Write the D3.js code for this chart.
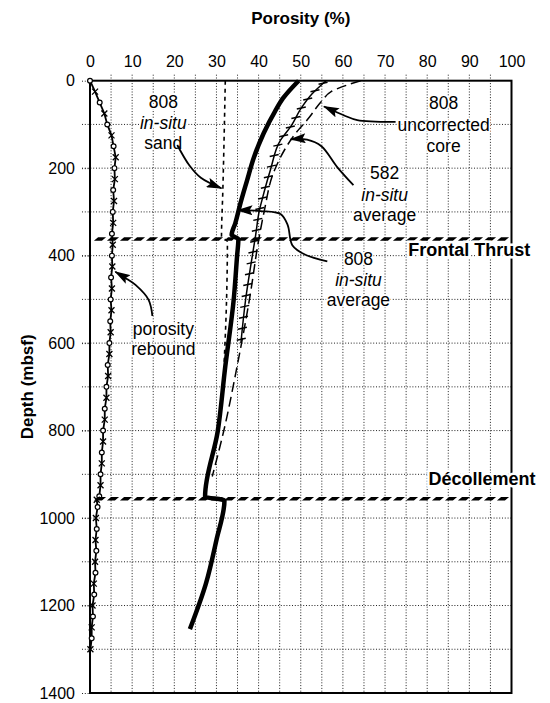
<!DOCTYPE html>
<html>
<head>
<meta charset="utf-8">
<script src="https://cdn.jsdelivr.net/npm/d3@7"></script>
<style>
  body { margin: 0; background: #fff; }
  svg { display: block; font-family: "Liberation Sans", Arial, Helvetica, sans-serif; }
</style>
</head>
<body>
<div id="chart"></div>
<script>
// tick labels
var porosityTicks = [0, 10, 20, 30, 40, 50, 60, 70, 80, 90, 100];
var depthTicks = [0, 200, 400, 600, 800, 1000, 1200, 1400];
var porosityGrid = [0, 5, 10, 15, 20, 25, 30, 35, 40, 45, 50, 55, 60, 65, 70, 75, 80, 85, 90, 95, 100];
var depthGrid = [0, 100, 200, 300, 400, 500, 600, 700, 800, 900, 1000, 1100, 1200, 1300, 1400];

// series: [depth (mbsf), porosity (%)]
var insitu808 = [[0, 49.5], [40, 45.8], [70, 43.9], [120, 41.2], [175, 38.9], [230, 37.2], [280, 35.7],
  [325, 34.5], [353, 33.6], [362, 35.2], [400, 34.9], [500, 34.1], [653, 32.1], [802, 30.3],
  [951, 27.3], [960, 31.9], [1050, 30.0], [1150, 27.5], [1254, 23.7]];
var insitu582 = [[0, 56], [30, 52.7], [60, 50.3], [105, 47.6], [136, 45.2], [204, 42.8], [273, 40.8],
  [296, 40.2], [353, 39.3], [425, 38.1], [502, 36.9], [600, 35.8]];
var uncorrected808 = [[0, 64.2], [25, 57.2], [44, 55.2], [90, 51.5], [113, 49.4], [204, 43.8],
  [300, 41.3], [365, 40.0], [490, 38.0], [653, 34.9], [802, 31.7], [905, 29.0]];
var sand808 = [[0, 32.1], [256, 31.5], [356, 31.2], [368, 32.6], [500, 32.4], [650, 31.8]];
var rebound = [[0, 0], [25, 1.2], [50, 2.3], [75, 3.4], [100, 4.1], [125, 5.1], [150, 5.6], [175, 6.1],
  [200, 5.8], [225, 5.9], [250, 5.5], [275, 5.7], [300, 5.4], [325, 5.5], [350, 5.2], [375, 5.4],
  [400, 5.2], [425, 5.3], [450, 5.0], [475, 5.2], [500, 4.9], [525, 5.1], [550, 4.8], [575, 4.9],
  [600, 4.6], [625, 4.6], [650, 4.2], [675, 4.3], [700, 3.9], [725, 3.9], [750, 3.5], [775, 3.5],
  [800, 3.1], [825, 3.1], [850, 2.8], [875, 2.8], [900, 2.5], [925, 2.5], [950, 2.2], [958, 1.6],
  [975, 1.8], [1000, 1.4], [1025, 1.6], [1050, 1.3], [1075, 1.5], [1100, 1.2], [1125, 1.3],
  [1150, 0.9], [1175, 1.0], [1200, 0.6], [1225, 0.7], [1250, 0.4], [1275, 0.4], [1300, 0.1]];

// structural boundaries (mbsf)
var boundaryDepths = [362, 956];
var boundaryNames = ["Frontal Thrust", "Décollement"];
var boundaryLabelPos = [[75.5, 387], [80.3, 910]];

// annotations: text lines, centre porosity, depth of each line
var noteLines = [["808", "in-situ", "sand"], ["808", "uncorrected", "core"], ["582", "in-situ", "average"],
  ["808", "in-situ", "average"], ["porosity", "rebound"]];
var noteX = [17.4, 83.9, 69.9, 63.7, 17.4];
var noteDepths = [[48, 97, 142], [51, 101, 149], [211, 261, 307], [408, 456, 501], [568, 613]];
// arrow paths, [porosity, depth]
var arrowPaths = [
  [[20.7, 147], [23.6, 194], [26.3, 222], [31.2, 246]],
  [[72.5, 94], [63.4, 90], [60.2, 79], [55.5, 59]],
  [[62.5, 239], [58.6, 197], [54.9, 150], [51.5, 135], [47.6, 134]],
  [[56.3, 413], [51.1, 398], [48, 376], [46.9, 330], [45.2, 305], [40.5, 298], [35, 296]],
  [[14.8, 538], [13.9, 501], [10.8, 467], [8.4, 451], [6.0, 437]]
];

var width = 550, height = 703;
var x = d3.scaleLinear().domain([0, 100]).range([90, 511.5]);
var y = d3.scaleLinear().domain([0, 1400]).range([80.7, 693]);

var svg = d3.select("#chart").append("svg")
  .attr("width", width)
  .attr("height", height);

svg.append("defs").append("marker")
  .attr("id", "head")
  .attr("viewBox", "0 0 16 10")
  .attr("refX", 15)
  .attr("refY", 5)
  .attr("markerWidth", 16)
  .attr("markerHeight", 10)
  .attr("markerUnits", "userSpaceOnUse")
  .attr("orient", "auto")
  .append("path")
  .attr("d", "M0,0 L16,5 L0,10 L3,5 Z")
  .attr("fill", "black");

// grid
svg.append("g").selectAll("line")
  .data(porosityGrid.slice(1, -1))
  .enter().append("line")
  .attr("x1", function(d) { return x(d); })
  .attr("x2", function(d) { return x(d); })
  .attr("y1", y(0) - 6)
  .attr("y2", y(1400))
  .attr("stroke", "#222")
  .attr("stroke-width", 1)
  .attr("stroke-dasharray", "1,1.8");

svg.append("g").selectAll("line")
  .data(depthGrid.slice(1, -1))
  .enter().append("line")
  .attr("x1", x(0) - 8)
  .attr("x2", x(100))
  .attr("y1", function(d) { return y(d); })
  .attr("y2", function(d) { return y(d); })
  .attr("stroke", "#222")
  .attr("stroke-width", 1)
  .attr("stroke-dasharray", "1,1.8");

// frame
svg.append("rect")
  .attr("x", x(0))
  .attr("y", y(0))
  .attr("width", x(100) - x(0))
  .attr("height", y(1400) - y(0))
  .attr("fill", "none")
  .attr("stroke", "black")
  .attr("stroke-width", 2);

// axes
var xAxis = svg.append("g")
  .attr("transform", "translate(0," + y(0) + ")")
  .call(d3.axisTop(x).tickValues(porosityTicks).tickSize(0).tickPadding(14));
var yAxis = svg.append("g")
  .attr("transform", "translate(" + x(0) + ",0)")
  .call(d3.axisLeft(y).tickValues(depthTicks).tickFormat(d3.format("d")).tickSize(0).tickPadding(15));
[xAxis, yAxis].forEach(function(a) {
  a.select(".domain").remove();
  a.attr("font-size", 16).attr("font-family", null);
  a.selectAll("text").attr("fill", "black");
});
yAxis.selectAll(".tick").append("line")
  .attr("x1", -8).attr("x2", 0)
  .attr("stroke", "#222").attr("stroke-dasharray", "1,1.8");

svg.append("text")
  .attr("x", (x(0) + x(100)) / 2)
  .attr("y", 24)
  .attr("text-anchor", "middle")
  .attr("font-size", 17)
  .attr("font-weight", "bold")
  .text("Porosity (%)");

svg.append("text")
  .attr("transform", "translate(33," + (y(0) + y(1400)) / 2 + ") rotate(-90)")
  .attr("text-anchor", "middle")
  .attr("font-size", 17)
  .attr("font-weight", "bold")
  .text("Depth (mbsf)");

// curves
var line = d3.line()
  .x(function(d) { return x(d[1]); })
  .y(function(d) { return y(d[0]); })
  .curve(d3.curveMonotoneY);

svg.append("path").datum(sand808)
  .attr("d", line).attr("fill", "none")
  .attr("stroke", "black").attr("stroke-width", 1.6)
  .attr("stroke-dasharray", "4,4");

svg.append("path").datum(uncorrected808)
  .attr("d", line).attr("fill", "none")
  .attr("stroke", "black").attr("stroke-width", 1.5)
  .attr("stroke-dasharray", "10,5");

var p582 = svg.append("path").datum(insitu582)
  .attr("d", line).attr("fill", "none")
  .attr("stroke", "black").attr("stroke-width", 1.5);

// cross ticks along the 582 line
var node = p582.node();
var total = node.getTotalLength();
var tickPts = d3.range(4, total, 11).map(function(l) { return node.getPointAtLength(l); });
svg.append("g").selectAll("line")
  .data(tickPts)
  .enter().append("line")
  .attr("x1", function(d) { return d.x - 4.5; })
  .attr("x2", function(d) { return d.x + 4.5; })
  .attr("y1", function(d) { return d.y + 1; })
  .attr("y2", function(d) { return d.y - 1; })
  .attr("stroke", "black")
  .attr("stroke-width", 1.5);

svg.append("path").datum(insitu808)
  .attr("d", line).attr("fill", "none")
  .attr("stroke", "black").attr("stroke-width", 4.5)
  .attr("stroke-linejoin", "round");

// porosity rebound
svg.append("path").datum(rebound)
  .attr("d", d3.line().x(function(d) { return x(d[1]); }).y(function(d) { return y(d[0]); }))
  .attr("fill", "none").attr("stroke", "black").attr("stroke-width", 1.8);

var marks = svg.append("g");
rebound.forEach(function(d, i) {
  var px = x(d[1]), py = y(d[0]);
  if (i % 2 === 0) {
    marks.append("circle").attr("cx", px).attr("cy", py).attr("r", 2.4)
      .attr("fill", "white").attr("stroke", "black").attr("stroke-width", 1.2);
  } else {
    marks.append("path")
      .attr("d", "M" + (px - 3) + "," + (py - 3) + "L" + (px + 3) + "," + (py + 3) +
        "M" + (px - 3) + "," + (py + 3) + "L" + (px + 3) + "," + (py - 3))
      .attr("stroke", "black").attr("stroke-width", 1.3);
  }
});

// boundaries
boundaryDepths.forEach(function(d) {
  svg.append("line")
    .attr("transform", "translate(0," + y(d) + ") skewX(-50)")
    .attr("x1", x(0) + 6)
    .attr("x2", x(100))
    .attr("y1", 0).attr("y2", 0)
    .attr("stroke", "black")
    .attr("stroke-width", 3.5)
    .attr("stroke-dasharray", "8,5");
});

boundaryNames.forEach(function(t, i) {
  svg.append("text")
    .attr("x", x(boundaryLabelPos[i][0]))
    .attr("y", y(boundaryLabelPos[i][1]))
    .attr("dy", "0.36em")
    .attr("font-size", 18)
    .attr("font-weight", "bold")
    .attr("stroke", "white")
    .attr("stroke-width", 5)
    .attr("paint-order", "stroke")
    .text(t);
});

// annotations
noteLines.forEach(function(lines, i) {
  lines.forEach(function(t, j) {
    svg.append("text")
      .attr("x", x(noteX[i]))
      .attr("y", y(noteDepths[i][j]))
      .attr("dy", "0.36em")
      .attr("text-anchor", "middle")
      .attr("font-size", 17.5)
      .attr("font-style", t === "in-situ" ? "italic" : null)
      .attr("stroke", "white")
      .attr("stroke-width", 3)
      .attr("paint-order", "stroke")
      .text(t);
  });
});

var arrowLine = d3.line()
  .x(function(d) { return x(d[0]); })
  .y(function(d) { return y(d[1]); })
  .curve(d3.curveCatmullRom);

svg.append("g").selectAll("path")
  .data(arrowPaths)
  .enter().append("path")
  .attr("d", arrowLine)
  .attr("fill", "none")
  .attr("stroke", "black")
  .attr("stroke-width", 1.8)
  .attr("marker-end", "url(#head)");
</script>
</body>
</html>
